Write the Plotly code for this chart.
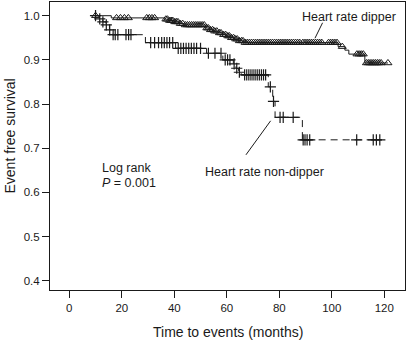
import plotly.graph_objects as go

# ---- Data ----
# Heart rate dipper: Kaplan-Meier step points (time in months, survival after the step)
dip_t = [9.7, 16, 36.5, 38, 40, 42, 44, 52, 53.5, 55, 57, 58.5, 60, 61.5, 63, 64.5, 66.5,
         102.4, 105, 106.5, 112.6, 121.4]
dip_s = [1.0, 0.995, 0.992, 0.989, 0.986, 0.982, 0.979, 0.972, 0.968, 0.965, 0.961, 0.957,
         0.954, 0.950, 0.947, 0.943, 0.939, 0.930, 0.922, 0.913, 0.893, 0.893]
dip_cens = [10, 18, 19.5, 21, 22.5, 29.5, 30.5, 31.5, 32.5,
            36.8, 37.4, 38.2, 38.8, 39.4, 40.2, 40.8, 41.4, 42.3, 43.2, 44.2, 45, 45.8, 46.6,
            47.4, 48.2, 49, 49.8, 50.6, 51.4, 52.4, 53, 53.8, 54.6, 55.4, 56.2, 57.2, 57.8,
            58.8, 59.6, 60.4, 61, 61.8, 62.6, 63.4, 64, 64.8, 65.6, 66.2, 67, 67.8, 68.6,
            69.4, 70.2, 71, 71.8, 72.6, 73.4, 74.2, 75, 75.8, 76.6, 77.4, 78.2, 79, 79.8,
            80.6, 81.4, 82.2, 83, 83.8, 84.6, 85.4, 86.2, 87, 87.8, 89, 89.8, 90.6, 91.4,
            92.2, 93, 93.8, 94.6, 95.4, 96.2, 98.8, 99.6, 100.4, 101.2, 102, 104, 109.6,
            110.4, 111.2, 112, 113.2, 113.9, 114.6, 115.3, 116, 116.7, 117.4, 118.1, 118.8,
            121.4]

# Heart rate non-dipper
nd_t = [9.7, 11.5, 12.8, 14, 15.3, 16.5, 29, 40.5, 52.3, 58.5, 62.5, 63.5, 64.5, 65.5,
        75.8, 77.5, 78.4, 88.8, 119]
nd_s = [1.0, 0.993, 0.986, 0.979, 0.968, 0.957, 0.939, 0.926, 0.915, 0.900, 0.891, 0.881,
        0.872, 0.866, 0.839, 0.806, 0.770, 0.719, 0.719]
nd_cens = [10, 11.6, 12.8, 14.1, 15.4, 16.7, 17.5, 18.5, 21.6, 22.6, 23.5,
           31, 32.5, 34, 35.2, 36.2, 37.2, 38.2, 39.4,
           41.5, 42.5, 43.5, 44.5, 45.5, 46.5, 47.5, 48.5, 50,
           53, 55.5, 57.8, 59.4, 60.3, 61.2, 62.8, 63.8, 64.8,
           66.8, 67.6, 68.4, 69.2, 70, 70.8, 71.6, 72.4, 73.2, 74, 74.8, 76.6, 77.8,
           80.3, 81.5, 85.3, 89.1, 89.8, 90.6, 91.6, 109.5, 115.8, 117, 118.3]

x_ticks = [0, 20, 40, 60, 80, 100, 120]
y_ticks = [0.4, 0.5, 0.6, 0.7, 0.8, 0.9, 1.0]


def surv_at(t, ts, ss):
    val = ss[0]
    for ti, si in zip(ts, ss):
        if ti <= t:
            val = si
    return val


FONT = "Liberation Sans, Arial, Helvetica, sans-serif"
INK = "#1a1a1a"

fig = go.Figure()

fig.add_trace(go.Scatter(x=dip_t, y=dip_s, mode="lines", line_shape="hv",
                         line=dict(color=INK, width=1), hoverinfo="skip"))
fig.add_trace(go.Scatter(x=dip_cens, y=[surv_at(t, dip_t, dip_s) for t in dip_cens],
                         mode="markers",
                         marker=dict(symbol="triangle-up-open", size=7, color=INK,
                                     line=dict(color=INK, width=1))))

fig.add_trace(go.Scatter(x=nd_t, y=nd_s, mode="lines", line_shape="hv",
                         line=dict(color=INK, width=1, dash="7px,5px"), hoverinfo="skip"))
fig.add_trace(go.Scatter(x=nd_cens, y=[surv_at(t, nd_t, nd_s) for t in nd_cens],
                         mode="markers",
                         marker=dict(symbol="cross-thin-open", size=8, color=INK,
                                     line=dict(color=INK, width=1.2))))

axis_common = dict(showline=True, linecolor=INK, linewidth=1, mirror=True,
                   showgrid=False, zeroline=False, ticks="outside", ticklen=7,
                   tickcolor=INK, tickwidth=1,
                   tickfont=dict(family=FONT, size=11.5, color=INK))

fig.update_layout(
    width=408, height=340,
    margin=dict(l=50, r=3, t=2, b=50),
    paper_bgcolor="white", plot_bgcolor="white",
    showlegend=False,
    font=dict(family=FONT, color=INK),
    xaxis=dict(range=[-7.35, 127.9], tickvals=x_ticks, **axis_common),
    yaxis=dict(range=[0.379, 1.031], tickvals=y_ticks, tickformat=".1f", **axis_common),
)

# axis titles
fig.add_annotation(text="Time to events (months)", xref="paper", yref="paper",
                   x=0.5, y=(290 - 332) / 288, xanchor="center", yanchor="middle",
                   showarrow=False, font=dict(family=FONT, size=14, color=INK))
fig.add_annotation(text="Event free survival", xref="paper", yref="paper",
                   x=(9 - 50) / 355, y=(290 - 136.5) / 288, xanchor="center", yanchor="middle",
                   textangle=-90, showarrow=False, font=dict(family=FONT, size=14, color=INK))

# labels in the plot
fig.add_annotation(text="Heart rate dipper", x=87.9, y=0.997, xanchor="left", yanchor="middle",
                   showarrow=False, font=dict(family=FONT, size=12.5, color=INK))
fig.add_annotation(text="Heart rate non-dipper", x=(203 - 69.3) / 2.625, y=1.0 - (172 - 15.7) / 442,
                   xanchor="left", yanchor="middle",
                   showarrow=False, font=dict(family=FONT, size=12.5, color=INK))
fig.add_annotation(text="Log rank", x=(100 - 69.3) / 2.625, y=1.0 - (168 - 15.7) / 442,
                   xanchor="left", yanchor="middle",
                   showarrow=False, font=dict(family=FONT, size=12.5, color=INK))
fig.add_annotation(text="<i>P</i> = 0.001", x=(100 - 69.3) / 2.625, y=1.0 - (183.5 - 15.7) / 442,
                   xanchor="left", yanchor="middle",
                   showarrow=False, font=dict(family=FONT, size=12.5, color=INK))

# leader lines
fig.add_shape(type="line", x0=96.5, y0=0.984, x1=93.6, y1=0.949,
              line=dict(color=INK, width=1))
fig.add_shape(type="line", x0=76.7, y0=0.762, x1=67.3, y1=0.685,
              line=dict(color=INK, width=1))

fig.write_html("out.html", config={"displayModeBar": False},
               post_script="document.body.style.margin='0';document.body.style.overflow='hidden';")
